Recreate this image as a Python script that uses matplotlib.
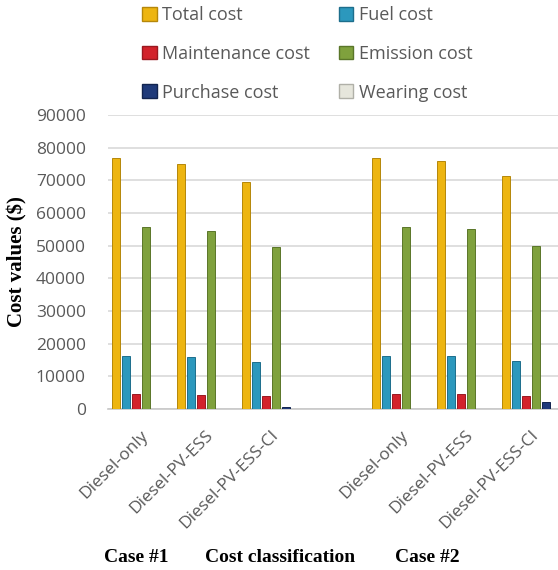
import numpy as np
import matplotlib.pyplot as plt
from matplotlib.patches import Patch

# Cost breakdown per configuration, two cases
configs = ['Diesel-only', 'Diesel-PV-ESS', 'Diesel-PV-ESS-CI']

total_case1 = [76900, 75150, 69400]
total_case2 = [76900, 76070, 71260]
fuel_case1 = [16200, 15900, 14400]
fuel_case2 = [16200, 16100, 14550]
maint_case1 = [4600, 4400, 4100]
maint_case2 = [4600, 4600, 4100]
emission_case1 = [55700, 54600, 49700]
emission_case2 = [55600, 55200, 50000]
purchase_case1 = [0, 0, 500]
purchase_case2 = [0, 0, 2000]
wearing_case1 = [0, 0, 0]
wearing_case2 = [0, 0, 0]

series_names = ['Total cost', 'Fuel cost', 'Maintenance cost',
                'Emission cost', 'Purchase cost', 'Wearing cost']
case1 = [total_case1, fuel_case1, maint_case1, emission_case1, purchase_case1, wearing_case1]
case2 = [total_case2, fuel_case2, maint_case2, emission_case2, purchase_case2, wearing_case2]

colors = ['#EDB511', '#2C98BD', '#D2222B', '#7FA13D', '#1F3A7A', '#E6E6DC']
edges = ['#B5870A', '#1D6E8C', '#9A1820', '#5A7629', '#12244F', '#B0B0A8']

grey = '#595959'
plt.rcParams['font.family'] = ['Open Sans', 'DejaVu Sans']

fig = plt.figure(figsize=(5.58, 5.70), dpi=100)
ax = fig.add_axes([108/558, 1 - 409/570, 450/558, (409 - 115)/570])

# 7 slots: case 1, an empty gap slot, case 2
slots = np.arange(7)
labels = configs + [''] + configs
pitch = 10/65
width = 8/65
for i in range(6):
    vals = list(case1[i]) + [np.nan] + list(case2[i])
    x = slots + (i - 2.5)*pitch
    ax.bar(x, vals, width, color=colors[i], edgecolor=edges[i], linewidth=0.7, zorder=3)

ax.set_xlim(-0.5, -0.5 + 450/65)
ax.set_ylim(0, 90000)
ax.set_yticks(np.arange(0, 90001, 10000))
ax.yaxis.grid(True, color='#D9D9D9', linewidth=1.2, zorder=0)
for s in ['top', 'right', 'left']:
    ax.spines[s].set_visible(False)
ax.spines['bottom'].set_color('#C8C8C8')
ax.spines['bottom'].set_linewidth(1.2)
ax.tick_params(axis='y', length=0, labelsize=12.5, labelcolor=grey, pad=16)
ax.tick_params(axis='x', length=0, labelsize=12.5, labelcolor=grey, pad=13)

xt = [s for s, l in zip(slots, labels) if l]
ax.set_xticks(xt)
ax.set_xticklabels([l for l in labels if l], rotation=45, ha='right',
                   rotation_mode='anchor')

ax.set_ylabel('Cost values ($)', family='Liberation Serif', fontweight='bold',
              fontsize=15, color='black', labelpad=4)
ax.yaxis.set_label_coords(-0.18, 0.5)

fig.text(136/558, 1 - 557/570, 'Case #1', family='Liberation Serif',
         fontweight='bold', fontsize=14, ha='center', va='center')
fig.text(280/558, 1 - 557/570, 'Cost classification', family='Liberation Serif',
         fontweight='bold', fontsize=14, ha='center', va='center')
fig.text(427/558, 1 - 557/570, 'Case #2', family='Liberation Serif',
         fontweight='bold', fontsize=14, ha='center', va='center')

handles = [Patch(facecolor=colors[i], edgecolor=edges[i], label=series_names[i]) for i in range(6)]
order = [0, 2, 4, 1, 3, 5]
leg = fig.legend([handles[i] for i in order], [series_names[i] for i in order],
                 ncol=2, loc='upper left', bbox_to_anchor=(126/558, 1.018),
                 frameon=False, fontsize=13, handlelength=0.8, handleheight=0.8,
                 handletextpad=0.3, columnspacing=1.6, labelspacing=1.15,
                 labelcolor=grey)

fig.savefig('out.png', dpi=100)
